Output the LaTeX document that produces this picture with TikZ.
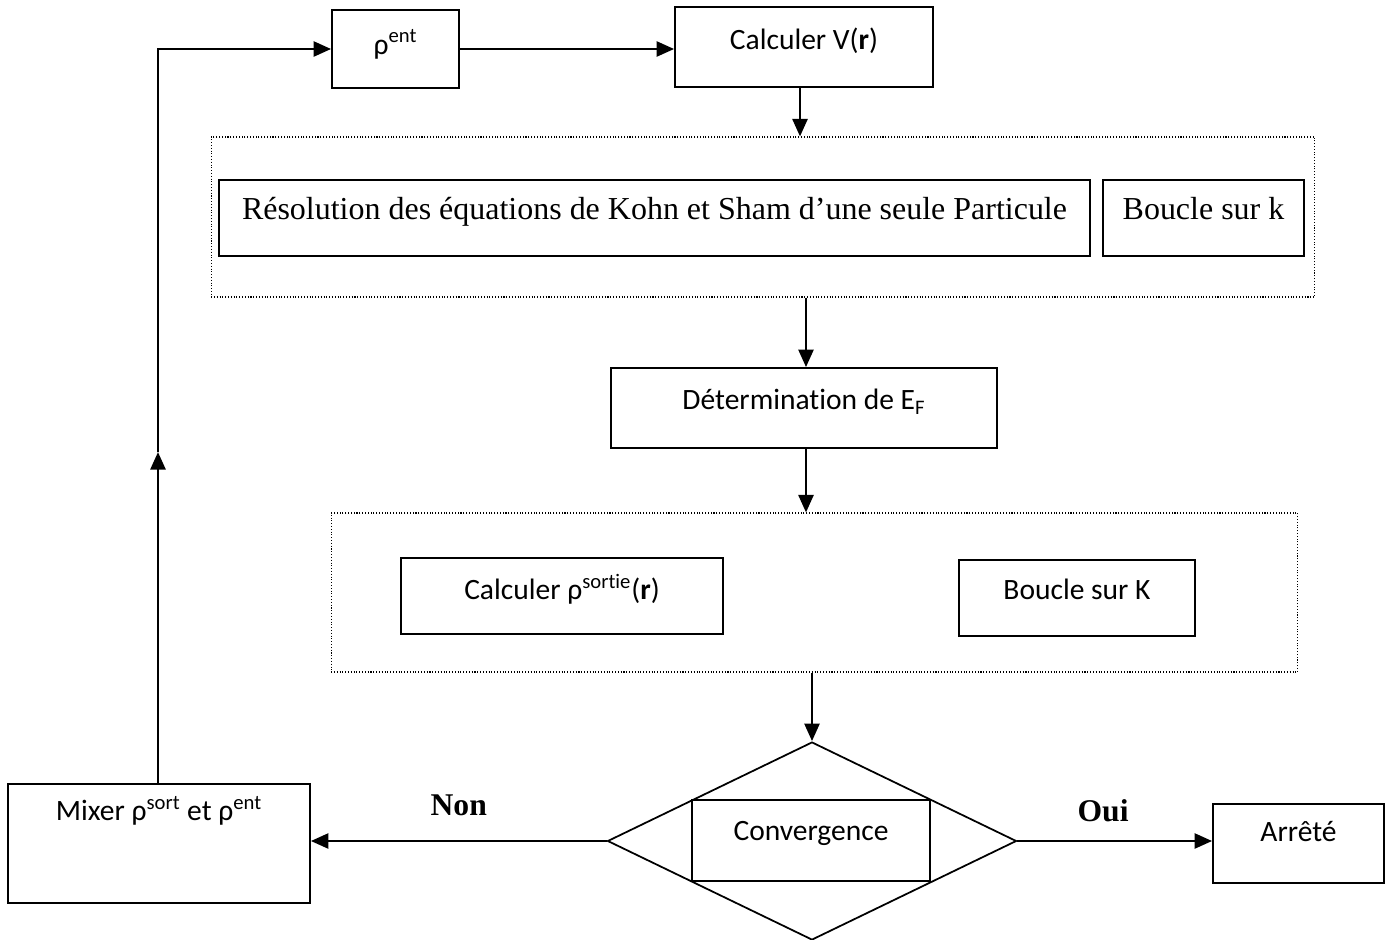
\documentclass[tikz,border=0pt]{standalone}
\usepackage{fontspec}
\setmainfont{Carlito}[Ligatures=NoCommon]
\newfontfamily\timesfont{Liberation Serif}
\usetikzlibrary{shapes.geometric, arrows.meta}
\tikzset{box/.style={draw, line width=1pt, inner sep=0pt, align=center, font=\fontsize{16.8}{20}\selectfont}}
\tikzset{tbox/.style={box, font=\timesfont\fontsize{18.2}{22}\selectfont}}
\tikzset{frame/.style={draw, densely dotted, line width=0.6pt, inner sep=0pt}}
\tikzset{lift/.style={text depth=#1}}
\tikzset{flow/.style={line width=1.6pt, -{Triangle[length=10pt, width=8.5pt]}}}
\tikzset{answer/.style={font=\timesfont\bfseries\fontsize{18}{21}\selectfont}}

\begin{document}
\begin{tikzpicture}[x=0.02cm, y=-0.02cm]
\useasboundingbox (0,0) rectangle (1394,940);

\node[box, lift=8pt, minimum width=2.54cm, minimum height=1.56cm] (rhoent) at (395.5,49) {ρ\textsuperscript{ent}};
\node[box, lift=9pt, minimum width=5.16cm, minimum height=1.6cm] (calcV) at (804,47) {Calculer V(\textbf{r})};

% premiere boucle
\node[frame, minimum width=22.08cm, minimum height=3.2cm] (kframe) at (763,217) {};
\node[tbox, lift=11pt, minimum width=17.42cm, minimum height=1.52cm] (kohnsham) at (654.5,218) {Résolution des équations de Kohn et Sham d’une seule Particule};
\node[tbox, lift=11pt, minimum width=4.02cm, minimum height=1.52cm] (kloop) at (1203.5,218) {Boucle sur k};

\node[box, lift=10pt, minimum width=7.72cm, minimum height=1.6cm] (fermi) at (804,408) {Détermination de E\textsubscript{F}};

% deuxieme boucle
\node[frame, minimum width=19.34cm, minimum height=3.18cm] (Kframe) at (814.5,592.5) {};
\node[box, lift=10pt, minimum width=6.44cm, minimum height=1.52cm] (rhosortie) at (562,596) {Calculer ρ\textsuperscript{sortie}(\textbf{r})};
\node[box, lift=10pt, minimum width=4.72cm, minimum height=1.52cm] (Kloop) at (1077,598) {Boucle sur K};

% test de convergence
\node[draw, diamond, line width=1pt, minimum width=8.18cm, minimum height=3.96cm, inner sep=0pt] (test) at (812,841) {};
\node[box, lift=11pt, minimum width=4.76cm, minimum height=1.62cm] (conv) at (811,840.5) {Convergence};
\node[box, lift=14pt, minimum width=3.42cm, minimum height=1.58cm] (stop) at (1298.5,843.5) {Arrêté};
\node[box, lift=40pt, minimum width=6.04cm, minimum height=2.38cm] (mixer) at (159,843.5) {Mixer ρ\textsuperscript{sort} et ρ\textsuperscript{ent}};
\coordinate (loopmid) at (158,452);

\draw[flow] (rhoent.east) -- (calcV.west |- rhoent.east);
\draw[flow] (800,0 |- calcV.south) -- (800,0 |- kframe.north);
\draw[flow] (806,0 |- kframe.south) -- (806,0 |- fermi.north);
\draw[flow] (806,0 |- fermi.south) -- (806,0 |- Kframe.north);
\draw[flow] (test.north |- Kframe.south) -- (test.north);
\draw[flow] (test.west) -- (mixer.east |- test.west) node[answer, midway, above=10pt] {Non};
\draw[flow] (test.east) -- (stop.west |- test.east) node[answer, pos=0.44, above=7pt] {Oui};
\draw[flow] (mixer.north -| loopmid) -- (loopmid);
\draw[flow] (loopmid) |- (rhoent.west);
\end{tikzpicture}
\end{document}
